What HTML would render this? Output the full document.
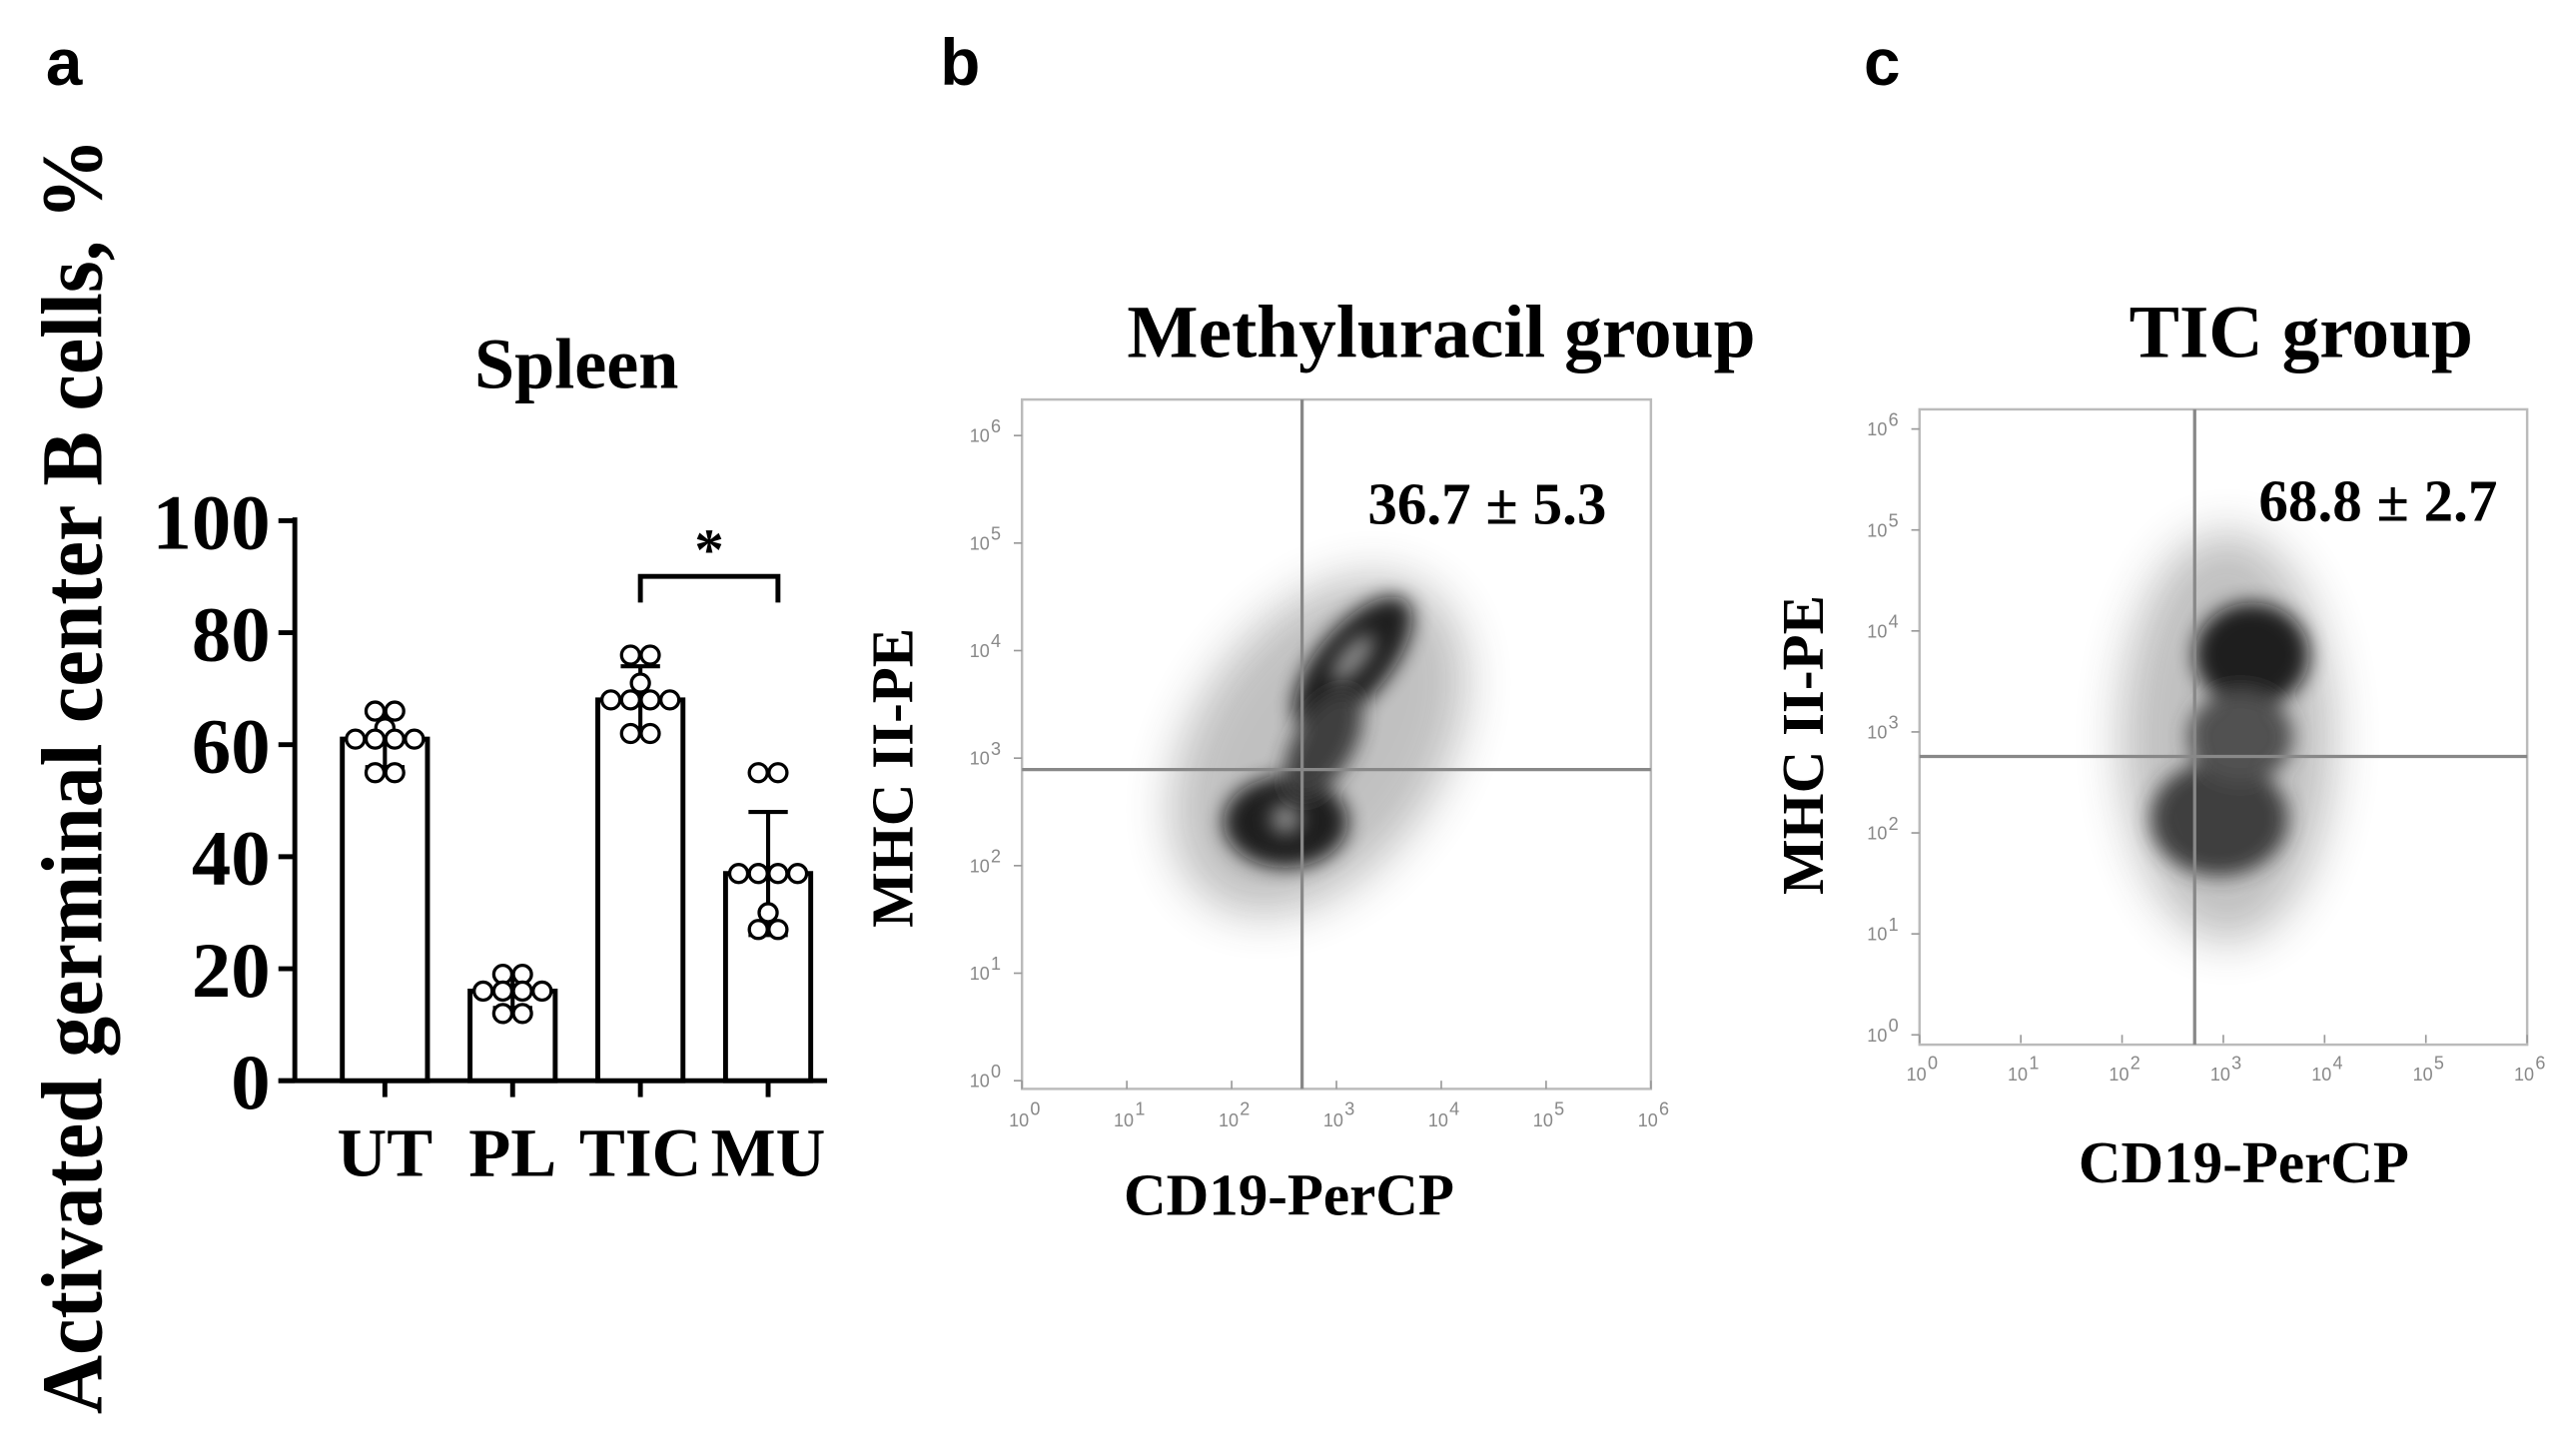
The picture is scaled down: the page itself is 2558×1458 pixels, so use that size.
<!DOCTYPE html>
<html><head><meta charset="utf-8"><style>
html,body{margin:0;padding:0;background:#fff;width:2558px;height:1458px;overflow:hidden}
svg{display:block}
.serif{font-family:"Liberation Serif",serif;font-weight:bold}
.tick{font-family:"Liberation Sans",sans-serif;fill:#888;font-size:11px}
</style></head><body>
<svg id="fig" width="2558" height="1458" viewBox="0 0 1560 889.2" preserveAspectRatio="none" xmlns="http://www.w3.org/2000/svg">
<defs>
<filter id="blur" x="-50%" y="-50%" width="200%" height="200%"><feGaussianBlur stdDeviation="6"/></filter>
<filter id="blur2" x="-50%" y="-50%" width="200%" height="200%"><feGaussianBlur stdDeviation="14"/></filter>
</defs>
<text x="28" y="52" font-family="Liberation Sans,sans-serif" font-weight="bold" font-size="40">a</text>
<text x="574" y="52" font-family="Liberation Sans,sans-serif" font-weight="bold" font-size="40">b</text>
<text x="1138" y="52" font-family="Liberation Sans,sans-serif" font-weight="bold" font-size="40">c</text>
<text class="serif" font-size="50" text-anchor="middle" transform="translate(62,474) rotate(-90) scale(1,1.06)">Activated germinal center B cells, %</text>
<text class="serif" font-size="44" x="352" y="237" text-anchor="middle">Spleen</text>
<g id="bars"></g>

<g>
<text class="serif" font-size="46" x="880" y="218" text-anchor="middle">Methyluracil group</text>
<rect x="624" y="244" width="384" height="421" fill="none" stroke="#bbb" stroke-width="1.5"/>
<g filter="url(#blur2)" opacity="0.3"><ellipse cx="805" cy="455" rx="75" ry="115" transform="rotate(35 805 455)" fill="#333"/></g>
<g filter="url(#blur)" opacity="0.9"><ellipse cx="826" cy="405" rx="22" ry="50" transform="rotate(40 826 405)" fill="#111"/><ellipse cx="785" cy="502" rx="38" ry="28" fill="#111"/><ellipse cx="808" cy="455" rx="18" ry="36" transform="rotate(30 808 455)" fill="#333"/></g>
<g filter="url(#blur)" opacity="0.6"><ellipse cx="826" cy="402" rx="7" ry="18" transform="rotate(40 826 402)" fill="#ddd"/><ellipse cx="785" cy="500" rx="9" ry="9" fill="#ddd"/></g>
<line x1="795" y1="244" x2="795" y2="665" stroke="#888" stroke-width="2"/>
<line x1="624" y1="470" x2="1008" y2="470" stroke="#888" stroke-width="2"/>
<text class="serif" font-size="36" x="908" y="320" text-anchor="middle">36.7 ± 5.3</text>
<text class="serif" font-size="36" text-anchor="middle" transform="translate(557,475) rotate(-90)">MHC II-PE</text>
<text class="serif" font-size="36" x="787" y="742" text-anchor="middle">CD19-PerCP</text>
<g id="ticksB"></g>
</g>

<g>
<text class="serif" font-size="46" x="1405" y="218" text-anchor="middle">TIC group</text>
<rect x="1172" y="250" width="371" height="388" fill="none" stroke="#bbb" stroke-width="1.5"/>
<g filter="url(#blur2)" opacity="0.3"><ellipse cx="1360" cy="450" rx="65" ry="125" fill="#333"/></g>
<g filter="url(#blur)" opacity="0.9"><ellipse cx="1375" cy="400" rx="35" ry="32" fill="#111"/><ellipse cx="1355" cy="500" rx="42" ry="35" fill="#333"/><ellipse cx="1368" cy="450" rx="32" ry="28" fill="#444"/></g>
<line x1="1340" y1="250" x2="1340" y2="638" stroke="#888" stroke-width="2"/>
<line x1="1172" y1="462" x2="1543" y2="462" stroke="#888" stroke-width="2"/>
<text class="serif" font-size="36" x="1452" y="318" text-anchor="middle">68.8 ± 2.7</text>
<text class="serif" font-size="36" text-anchor="middle" transform="translate(1113,455) rotate(-90)">MHC II-PE</text>
<text class="serif" font-size="36" x="1370" y="722" text-anchor="middle">CD19-PerCP</text>
<g id="ticksC"></g>
</g>
</svg>
<script>
const categories = ["UT","PL","TIC","MU"];
const means = [61,16,68,37];
const sds = [5,3,6,11];
const points = [
 [66,66,63,61,61,61,61,55,55],
 [19,19,16,16,16,16,12,12],
 [76,76,71,68,68,68,68,62,62],
 [55,55,37,37,37,37,30,27,27]
];
const yTicks = [0,20,40,60,80,100];
const decades = ["0","1","2","3","4","5","6"];
const NS="http://www.w3.org/2000/svg";
function mk(tag,attrs,parent,txt){const e=document.createElementNS(NS,tag);for(const k in attrs)e.setAttribute(k,attrs[k]);if(txt!==undefined)e.textContent=txt;parent.appendChild(e);return e;}
const g=document.getElementById('bars');
const y0=660,y100=318,xAxis=180;
function yS(v){return y0-(v/100)*(y0-y100);}
function xS(i){return 235+i*78;}
mk('line',{x1:xAxis,y1:y100-2,x2:xAxis,y2:y0,stroke:'#000','stroke-width':3},g);
mk('line',{x1:170,y1:y0,x2:505,y2:y0,stroke:'#000','stroke-width':3},g);
yTicks.forEach(t=>{
 mk('line',{x1:170,y1:yS(t),x2:xAxis,y2:yS(t),stroke:'#000','stroke-width':3},g);
 const tx=mk('text',{x:165,y:yS(t)+17,'text-anchor':'end','class':'serif','font-size':48},g,String(t));
 
 
});
categories.forEach((c,i)=>{
 const cx=xS(i),w=52;
 const b=mk('rect',{x:cx-w/2,y:yS(means[i]),width:w,height:y0-yS(means[i]),fill:'#fff',stroke:'#000','stroke-width':3},g);
 
 
 mk('line',{x1:cx,y1:y0,x2:cx,y2:y0+10,stroke:'#000','stroke-width':3},g);
 const lab=mk('text',{x:cx,y:718,'text-anchor':'middle','class':'serif','font-size':42},g,c);
 
 
 const hi=yS(means[i]+sds[i]),lo=yS(means[i]-sds[i]);
 mk('line',{x1:cx,y1:hi,x2:cx,y2:lo,stroke:'#000','stroke-width':2.5},g);
 mk('line',{x1:cx-12,y1:hi,x2:cx+12,y2:hi,stroke:'#000','stroke-width':2.5},g);
 mk('line',{x1:cx-12,y1:lo,x2:cx+12,y2:lo,stroke:'#000','stroke-width':2.5},g);
 const counts={};points[i].forEach(v=>counts[v]=(counts[v]||0)+1);
 const seen={};
 points[i].forEach(v=>{
  const n=counts[v],k=(seen[v]=(seen[v]||0)+1)-1;
  const off=(k-(n-1)/2)*12;
  const p=mk('circle',{cx:cx+off,cy:yS(v),r:5.5,fill:'#fff',stroke:'#000','stroke-width':2},g);
  
  
 });
});
const bY=352;
mk('path',{d:`M${xS(2)} ${bY+16}V${bY}H${xS(3)+6}V${bY+16}`,fill:'none',stroke:'#000','stroke-width':3},g);
const st=mk('text',{x:(xS(2)+xS(3))/2+3,y:bY-4,'text-anchor':'middle','class':'serif','font-size':36},g,'*');



function flowTicks(id,x0,x1,yt,yb){
 const G=document.getElementById(id);
 decades.forEach((d,i)=>{
  const x=x0+(x1-x0)*i/6, y=yb-(yb-yt)*i/6;
  mk('line',{x1:x,y1:yb,x2:x,y2:yb+5,stroke:'#999'},G);
  mk('line',{x1:x0-5,y1:y,x2:x0,y2:y,stroke:'#999'},G);
  const a=mk('text',{x:x-8,y:yb+28,'class':'tick'},G,'10');
  
  
  mk('text',{x:x+5,y:yb+21,'class':'tick','font-size':7},G,d);
  const b=mk('text',{x:x0-32,y:y+4,'class':'tick'},G,'10');
  
  
  mk('text',{x:x0-19,y:y-2,'class':'tick','font-size':7},G,d);
 });
}
flowTicks('ticksB',624,1008,266,660);
flowTicks('ticksC',1172,1543,262,632);
</script>
</body></html>
